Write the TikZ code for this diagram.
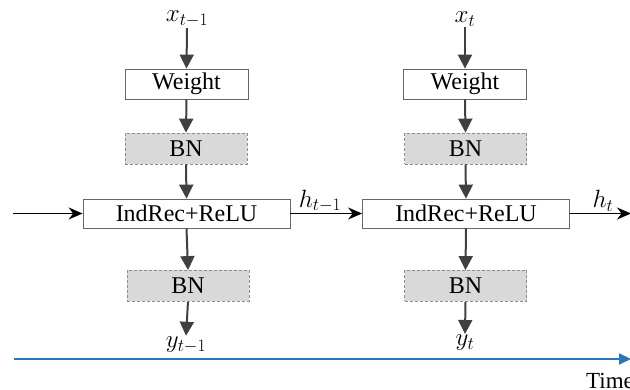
\RequirePackage{fix-cm}
\documentclass[tikz,border=0pt]{standalone}
\usepackage{fontspec}
\setmainfont{Liberation Serif}
\usetikzlibrary{arrows.meta}
\definecolor{arrgray}{HTML}{404040}
\definecolor{bnfill}{HTML}{D9D9D9}
\definecolor{bnborder}{HTML}{8C8C8C}
\definecolor{timeblue}{HTML}{2E75B6}
\begin{document}
\begin{tikzpicture}[x=1pt,y=1pt,
  box/.style={draw=black!60, line width=0.8pt, fill=white, minimum height=30pt, inner sep=0pt, font=\fontsize{24}{27}\selectfont},
  weightbox/.style={box, minimum width=123pt},
  recbox/.style={box, minimum width=207pt, minimum height=29pt},
  bnbox/.style={box, draw=bnborder, fill=bnfill, dashed, dash pattern=on 3pt off 2pt, minimum width=122pt, minimum height=31pt},
  garr/.style={draw=arrgray, line width=2pt, -{Triangle[length=14pt,width=14pt]}},
  barr/.style={draw=black, line width=1.5pt, -{Stealth[length=14pt,width=12pt]}},
  lbl/.style={inner sep=1pt, font=\fontsize{25}{28}\selectfont}
]
\useasboundingbox (0,0) rectangle (630,390);
% left column
\node[lbl] (x1) at (187,371) {$x_{t-1}$};
\node[weightbox] (w1) at (186.5,306) {Weight};
\node[bnbox] (bn1) at (186,241.5) {BN};
\node[recbox] (r1) at (186.5,176.5) {IndRec+ReLU};
\node[bnbox] (bo1) at (188,104) {BN};
\node[lbl] (y1) at (186,45) {$y_{t-1}$};
% right column
\node[lbl] (x2) at (465,371) {$x_t$};
\node[weightbox] (w2) at (465,306) {Weight};
\node[bnbox] (bn2) at (465.5,241.5) {BN};
\node[recbox] (r2) at (466,176.5) {IndRec+ReLU};
\node[bnbox] (bo2) at (465.5,104) {BN};
\node[lbl] (y2) at (465,47) {$y_t$};
% vertical arrows
\foreach \a/\b in {x1/w1,w1/bn1,bn1/r1,r1/bo1,bo1/y1,x2/w2,w2/bn2,bn2/r2,r2/bo2,bo2/y2}
  \draw[garr] (\a.south) -- (\b.north);
% horizontal recurrent arrows
\coordinate (in) at (13,176.5);
\coordinate (out) at (631,176.5);
\draw[barr] (in) -- (r1.west);
\draw[barr] (r1.east) -- (r2.west);
\node[lbl] (h1) at (320,189) {$h_{t-1}$};
\draw[barr] (r2.east) -- (out);
\node[lbl] (h2) at (603,189) {$h_t$};
% time axis
\coordinate (t0) at (14,31);
\coordinate (t1) at (631,31);
\draw[draw=timeblue, line width=2pt, -{Triangle[length=12pt,width=11pt]}] (t0) -- (t1);
\node[anchor=west, inner sep=0pt, font=\fontsize{23}{25}\selectfont] (time) at (586,9) {Time};
\end{tikzpicture}
\end{document}
